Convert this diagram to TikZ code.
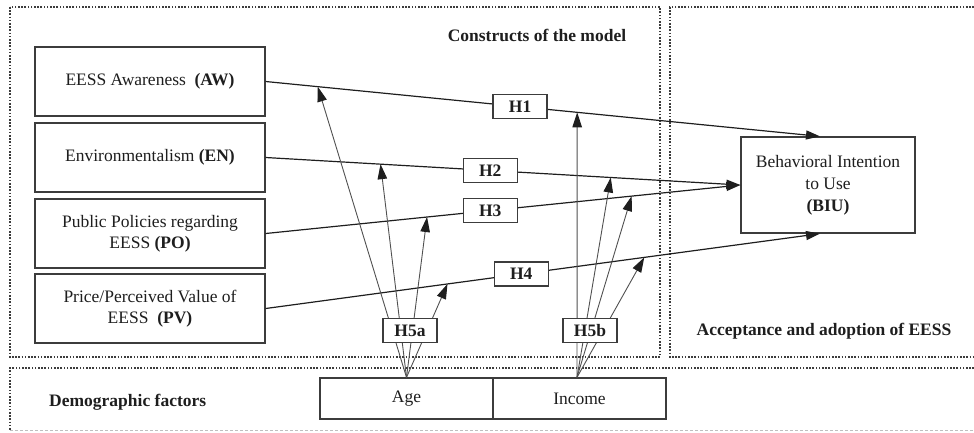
\documentclass[tikz,border=0pt]{standalone}
\usepackage{fontspec}
\setmainfont{Liberation Serif}
\usetikzlibrary{arrows.meta}
\definecolor{ink}{HTML}{1E1E1E}
\definecolor{edge}{HTML}{3C3C3C}
\definecolor{thinln}{HTML}{505050}
\begin{document}
\begin{tikzpicture}[x=1pt,y=-1pt,
  font=\fontsize{17.5}{21}\selectfont,
  every node/.style={text=ink},
  cbox/.style={draw=edge, line width=1.3pt, fill=white, align=center, inner sep=0pt,
    minimum width=230pt, minimum height=69pt},
  hbox/.style={draw=edge, line width=1.3pt, fill=white, inner sep=0pt,
    minimum width=54pt, minimum height=24pt, font=\fontsize{17.5}{21}\selectfont\bfseries},
  dembox/.style={draw=edge, line width=1.3pt, fill=white, inner sep=0pt,
    minimum width=173pt, minimum height=41pt},
  mainarr/.style={draw=ink, line width=1.2pt, -{Triangle[length=14pt,width=9pt]}},
  modarr/.style={draw=thinln, line width=0.9pt, -{Triangle[length=15pt,width=9.5pt,color=ink]}},
  dotbox/.style={draw=edge, line width=1.3pt, dash pattern=on 1.6pt off 1.6pt},
  lightbox/.style={draw=black!25, line width=1pt, dash pattern=on 3pt off 2pt},
  grp/.style={font=\fontsize{17.5}{21}\selectfont\bfseries, inner sep=0pt}
]
\useasboundingbox (0,0) rectangle (974,432);

% group frames
\draw[dotbox] (10,7) rectangle (660,357);
\draw[dotbox] (974,7) -- (670,7) -- (670,357) -- (974,357);
\draw[dotbox] (974,368) -- (10,368) -- (10,431);
\draw[lightbox] (10,430) -- (974,430);

\node[grp] (tcons) at (537,35) {Constructs of the model};
\node[grp] (tacc) at (824,331) {Acceptance and adoption of EESS};
\node[grp, anchor=west] (tdem) at (49,402) {Demographic factors};

% construct boxes
\node[cbox] (AW) at (150,81.5) {EESS Awareness~ \textbf{(AW)}};
\node[cbox] (EN) at (150,157.5) {Environmentalism \textbf{(EN)}};
\node[cbox] (PO) at (150,233.5) {Public Policies regarding\\EESS \textbf{(PO)}};
\node[cbox] (PV) at (150,308.5) {Price/Perceived Value of\\EESS~ \textbf{(PV)}};

\node[cbox, minimum width=174pt, minimum height=96pt, font=\fontsize{17.5}{22}\selectfont] (BIU) at (828,185)
  {Behavioral Intention\\to Use\\\textbf{(BIU)}};

\node[dembox] (Age) at (406.5,398.5) {Age};
\node[dembox] (Inc) at (579.5,398.5) {Income};

% main hypotheses
\draw[mainarr] (AW.east) -- coordinate[pos=0.094] (a1) coordinate[pos=0.562] (b1)
  node[hbox, pos=0.459] (H1) {H1} ([xshift=-8pt]BIU.north);
\draw[mainarr] (EN.east) -- coordinate[pos=0.242] (a2) coordinate[pos=0.727] (b2)
  node[hbox, pos=0.473] (H2) {H2} (BIU.west);
\draw[mainarr] (PO.east) -- coordinate[pos=0.340] (a3) coordinate[pos=0.771] (b3)
  node[hbox, pos=0.473] (H3) {H3} (BIU.west);
\draw[mainarr] (PV.east) -- coordinate[pos=0.328] (a4) coordinate[pos=0.683] (b4)
  node[hbox, pos=0.461] (H4) {H4} ([xshift=-8pt]BIU.south);

% moderators
\coordinate (sa) at (Age.north);
\coordinate (sb) at ([xshift=-2.5pt]Inc.north);
\foreach \t in {a1,a2,a3,a4} \draw[modarr] (sa) -- (\t);
\foreach \t in {b1,b2,b3,b4} \draw[modarr] (sb) -- (\t);

\node[hbox] (H5a) at (410,330.5) {H5a};
\node[hbox] (H5b) at (590,330.5) {H5b};
\end{tikzpicture}
\end{document}
